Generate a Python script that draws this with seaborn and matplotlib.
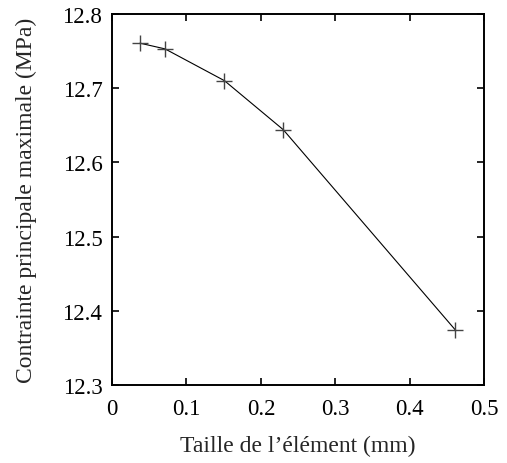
import matplotlib
matplotlib.use("Agg")
import matplotlib.pyplot as plt
import seaborn as sns
import pandas as pd

taille = [0.0376, 0.0712, 0.151, 0.230, 0.461]
contrainte = [12.7605, 12.7528, 12.710, 12.644, 12.3745]

x_ticks = [0, 0.1, 0.2, 0.3, 0.4, 0.5]
y_ticks = [12.3, 12.4, 12.5, 12.6, 12.7, 12.8]

sns.set_style("ticks")
plt.rcParams['font.family'] = ['Liberation Serif', 'DejaVu Serif']

df = pd.DataFrame({"taille": taille, "contrainte": contrainte})

fig = plt.figure(figsize=(5.07, 4.64), dpi=100)
ax = fig.add_axes([0.221, 0.168, 0.734, 0.800])

sns.lineplot(data=df, x="taille", y="contrainte", ax=ax, color="black",
             linewidth=0.8, marker="+", markersize=12, markeredgewidth=1.0,
             markeredgecolor="#444444", sort=False)

ax.set_xlim(0, 0.5)
ax.set_ylim(12.3, 12.8)
ax.set_xticks(x_ticks)
ax.set_xticklabels([f"{v:g}" for v in x_ticks])
ax.set_yticks(y_ticks)
ax.set_yticklabels([f"{v:.1f}" for v in y_ticks])
ax.tick_params(direction="in", length=5, width=1.2, top=True, right=True,
               labelsize=16.5, colors="black")
ax.tick_params(axis="x", pad=9)
ax.tick_params(axis="y", pad=7)
for s in ax.spines.values():
    s.set_linewidth(1.4)
    s.set_color("black")

ax.set_xlabel("Taille de l\u2019élément (mm)", fontsize=17, labelpad=12)
ax.set_ylabel("Contrainte principale maximale (MPa)", fontsize=17, labelpad=18)

fig.savefig("out.png", dpi=100)
